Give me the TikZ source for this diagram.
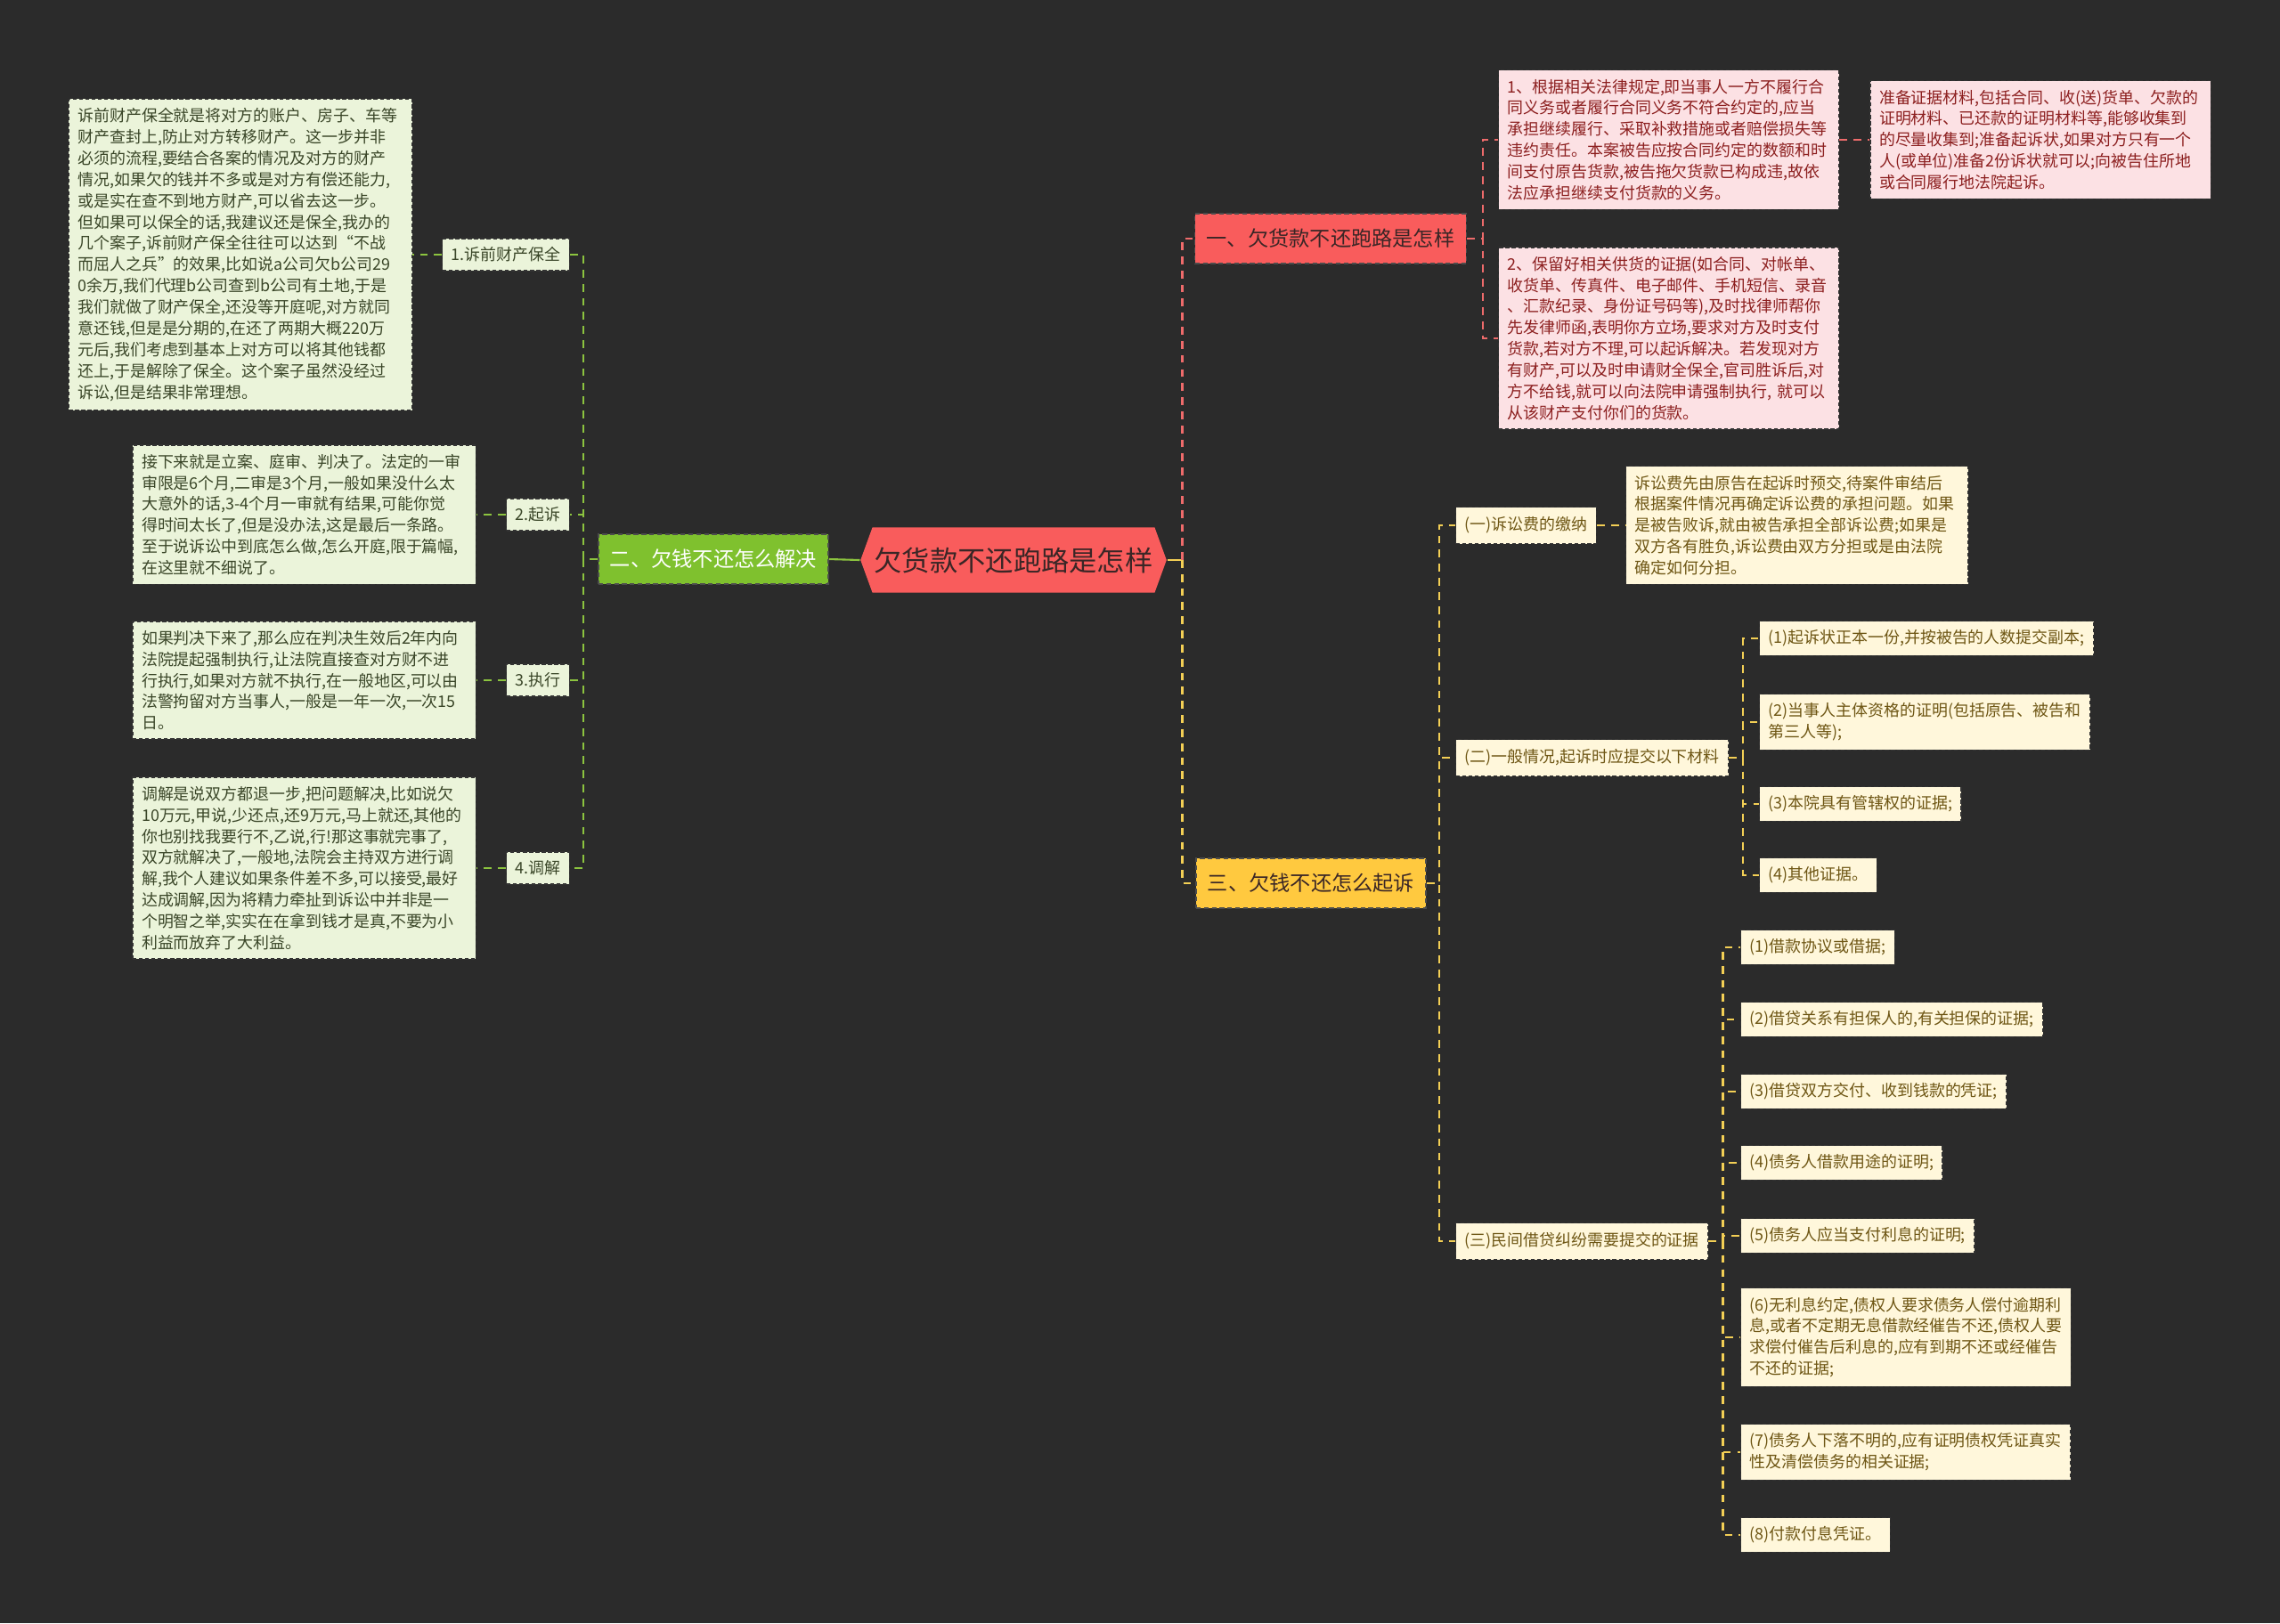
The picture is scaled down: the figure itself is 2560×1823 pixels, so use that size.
\documentclass[tikz,border=0pt]{standalone}
\usepackage{fontspec}
\newfontfamily\cjk{Noto Sans CJK SC}
\usetikzlibrary{positioning,shapes.symbols}

\definecolor{bgcol}{HTML}{2B2B2B}
\definecolor{redmain}{HTML}{F95C5C}
\definecolor{greenmain}{HTML}{7FC12E}
\definecolor{yellowmain}{HTML}{FFC93F}
\definecolor{darktext}{HTML}{3A2626}
\definecolor{rfill}{HTML}{FCE1E4}
\definecolor{rtext}{HTML}{8C1F1F}
\definecolor{gfill}{HTML}{EBF4DA}
\definecolor{gtext}{HTML}{3A4628}
\definecolor{yfill}{HTML}{FFF7DB}
\definecolor{ytext}{HTML}{6E5614}
\definecolor{rlinecol}{HTML}{EE6B6B}
\definecolor{glinecol}{HTML}{8CC43F}
\definecolor{ylinecol}{HTML}{F3CF55}

\tikzset{
  rootnode/.style={shape=signal, signal to=west and east, signal pointer angle=140,
    fill=redmain, text=darktext, font=\cjk\fontsize{8.9}{10}\selectfont,
    inner xsep=0.02cm, minimum height=0.73cm},
  branch/.style={draw=black!70, dash pattern=on 1.5pt off 1pt, line width=0.4pt,
    font=\cjk\fontsize{6.6}{8}\selectfont, inner xsep=0.13cm, minimum height=0.56cm},
  detail/.style={draw=black!80, dash pattern=on 1.2pt off 0.8pt, line width=0.35pt,
    font=\cjk\fontsize{5.1}{6.8}\selectfont, inner xsep=0.1cm, inner ysep=0.1cm, align=left},
  rbox/.style={detail, fill=rfill, text=rtext, text width=3.62cm},
  gbox/.style={detail, fill=gfill, text=gtext, text width=3.65cm},
  ybox/.style={detail, fill=yfill, text=ytext},
  gsub/.style={detail, fill=gfill, text=gtext, minimum height=0.36cm, inner ysep=0.08cm},
  ysub/.style={detail, fill=yfill, text=ytext, minimum height=0.41cm},
  link/.style={line width=0.6pt, dash pattern=on 2.5pt off 2pt},
  rline/.style={link, draw=rlinecol},
  gline/.style={link, draw=glinecol},
  yline/.style={link, draw=ylinecol},
}

\begin{document}
\begin{tikzpicture}[x=0.01cm, y=-0.01cm]
% Page
\fill[bgcol] (0,0) rectangle (2560,1823);
% Root and main branches
\node[rootnode] (root) at (1138,629) {欠货款不还跑路是怎样};
\node[branch, fill=redmain, text=darktext] (br1) at (1494,268) {一、欠货款不还跑路是怎样};
\node[branch, fill=greenmain, text=white] (br2) at (801,628) {二、欠钱不还怎么解决};
\node[branch, fill=yellowmain, text=darktext] (br3) at (1472,992) {三、欠钱不还怎么起诉};
\draw[line width=0.6pt, glinecol] (root.west) -- (br2.east);
\draw[line width=0.6pt, ylinecol] (root.east) -- ++(17,0) coordinate (rj);
\draw[rline] (rj) |- (br1.west);
\draw[yline] (rj) |- (br3.west);
% --- Branch 1: red ---
\node[rbox, anchor=west] (rd1) at (1682,157) {1、根据相关法律规定,即当事人一方不履行合\\同义务或者履行合同义务不符合约定的,应当\\承担继续履行、采取补救措施或者赔偿损失等\\违约责任。本案被告应按合同约定的数额和时\\间支付原告货款,被告拖欠货款已构成违,故依\\法应承担继续支付货款的义务。};
\node[rbox, anchor=west] (rd2) at (1682,380) {2、保留好相关供货的证据(如合同、对帐单、\\收货单、传真件、电子邮件、手机短信、录音\\、汇款纪录、身份证号码等),及时找律师帮你\\先发律师函,表明你方立场,要求对方及时支付\\货款,若对方不理,可以起诉解决。若发现对方\\有财产,可以及时申请财全保全,官司胜诉后,对\\方不给钱,就可以向法院申请强制执行,~就可以\\从该财产支付你们的货款。};
\node[rbox, right=0.34cm of rd1] (rd3) {准备证据材料,包括合同、收(送)货单、欠款的\\证明材料、已还款的证明材料等,能够收集到\\的尽量收集到;准备起诉状,如果对方只有一个\\人(或单位)准备2份诉状就可以;向被告住所地\\或合同履行地法院起诉。};
\foreach \n in {rd1,rd2} \draw[rline] (br1.east) -- ++(18,0) |- (\n.west);
\draw[rline] (rd1) -- (rd3);
% --- Branch 2: green ---
\node[gsub, anchor=east] (gs1) at (640,286) {1.诉前财产保全};
\node[gsub, anchor=east] (gs2) at (640,578) {2.起诉};
\node[gsub, anchor=east] (gs3) at (640,764) {3.执行};
\node[gsub, anchor=east] (gs4) at (640,975) {4.调解};
\node[gbox, left=0.33cm of gs1] (gd1) {诉前财产保全就是将对方的账户、房子、车等\\财产查封上,防止对方转移财产。这一步并非\\必须的流程,要结合各案的情况及对方的财产\\情况,如果欠的钱并不多或是对方有偿还能力,\\或是实在查不到地方财产,可以省去这一步。\\但如果可以保全的话,我建议还是保全,我办的\\几个案子,诉前财产保全往往可以达到“不战\\而屈人之兵”的效果,比如说a公司欠b公司29\\0余万,我们代理b公司查到b公司有土地,于是\\我们就做了财产保全,还没等开庭呢,对方就同\\意还钱,但是是分期的,在还了两期大概220万\\元后,我们考虑到基本上对方可以将其他钱都\\还上,于是解除了保全。这个案子虽然没经过\\诉讼,但是结果非常理想。};
\node[gbox, left=0.33cm of gs2] (gd2) {接下来就是立案、庭审、判决了。法定的一审\\审限是6个月,二审是3个月,一般如果没什么太\\大意外的话,3-4个月一审就有结果,可能你觉\\得时间太长了,但是没办法,这是最后一条路。\\至于说诉讼中到底怎么做,怎么开庭,限于篇幅,\\在这里就不细说了。};
\node[gbox, left=0.33cm of gs3] (gd3) {如果判决下来了,那么应在判决生效后2年内向\\法院提起强制执行,让法院直接查对方财不进\\行执行,如果对方就不执行,在一般地区,可以由\\法警拘留对方当事人,一般是一年一次,一次15\\日。};
\node[gbox, left=0.33cm of gs4] (gd4) {调解是说双方都退一步,把问题解决,比如说欠\\10万元,甲说,少还点,还9万元,马上就还,其他的\\你也别找我要行不,乙说,行!那这事就完事了,\\双方就解决了,一般地,法院会主持双方进行调\\解,我个人建议如果条件差不多,可以接受,最好\\达成调解,因为将精力牵扯到诉讼中并非是一\\个明智之举,实实在在拿到钱才是真,不要为小\\利益而放弃了大利益。};
\foreach \i in {1,...,4} {
  \draw[gline] (br2.west) -- ++(-16,0) |- (gs\i.east);
  \draw[gline] (gs\i) -- (gd\i);
}
% --- Branch 3: yellow ---
\node[ysub, anchor=west] (ys1) at (1634,590) {(一)诉讼费的缴纳};
\node[ysub, anchor=west] (ys2) at (1634,851) {(二)一般情况,起诉时应提交以下材料};
\node[ysub, anchor=west] (ys3) at (1634,1394) {(三)民间借贷纠纷需要提交的证据};
\node[ybox, text width=3.64cm, right=0.32cm of ys1] (yd1) {诉讼费先由原告在起诉时预交,待案件审结后\\根据案件情况再确定诉讼费的承担问题。如果\\是被告败诉,就由被告承担全部诉讼费;如果是\\双方各有胜负,诉讼费由双方分担或是由法院\\确定如何分担。};
\foreach \n in {ys1,ys2,ys3} \draw[yline] (br3.east) -- ++(14,0) |- (\n.west);
\draw[yline] (ys1) -- (yd1);
% materials
\foreach \yy/\txt [count=\i] in {
  717/{(1)起诉状正本一份,并按被告的人数提交副本;},
  811/{(2)当事人主体资格的证明(包括原告、被告和\\第三人等);},
  903/{(3)本院具有管辖权的证据;},
  983/{(4)其他证据。}} {
  \node[ybox, anchor=west] (ya\i) at (1975,\yy) {\txt};
  \draw[yline] (ys2.east) -- ++(16,0) |- (ya\i.west);
}
% evidence
\foreach \yy/\txt [count=\i] in {
  1064/{(1)借款协议或借据;},
  1145/{(2)借贷关系有担保人的,有关担保的证据;},
  1226/{(3)借贷双方交付、收到钱款的凭证;},
  1306/{(4)债务人借款用途的证明;},
  1388/{(5)债务人应当支付利息的证明;},
  1502/{(6)无利息约定,债权人要求债务人偿付逾期利\\息,或者不定期无息借款经催告不还,债权人要\\求偿付催告后利息的,应有到期不还或经催告\\不还的证据;},
  1631/{(7)债务人下落不明的,应有证明债权凭证真实\\性及清偿债务的相关证据;},
  1724/{(8)付款付息凭证。}} {
  \node[ybox, anchor=west] (yc\i) at (1954,\yy) {\txt};
  \draw[yline] (ys3.east) -- ++(16,0) |- (yc\i.west);
}
\end{tikzpicture}
\end{document}
